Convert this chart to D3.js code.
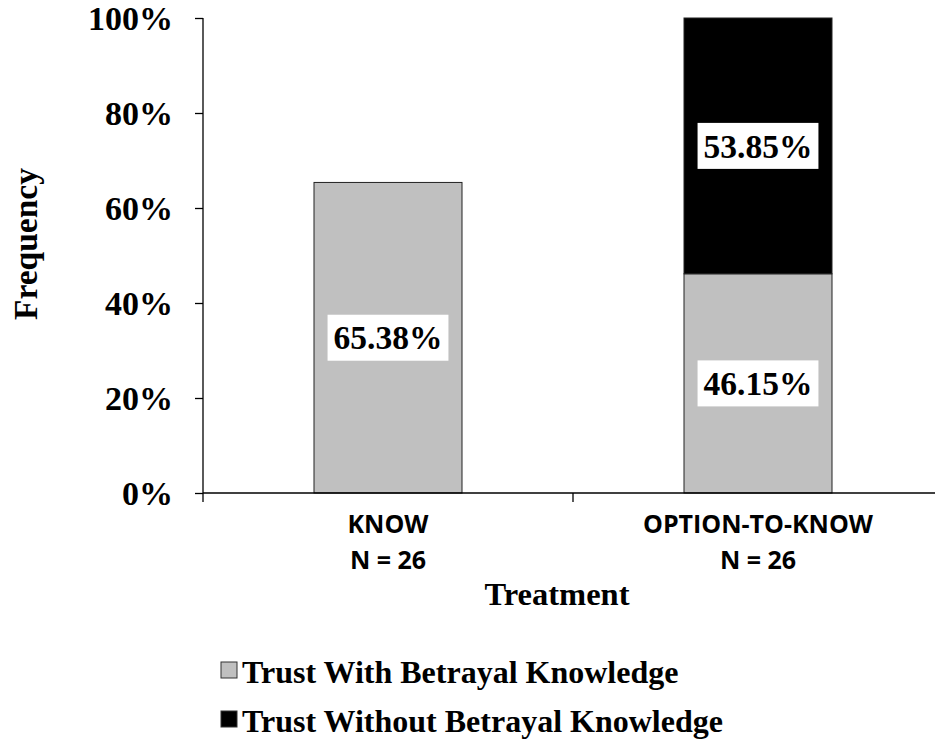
<!DOCTYPE html>
<html>
<head>
<meta charset="utf-8">
<script src="https://cdn.jsdelivr.net/npm/d3@7"></script>
<style>
  html, body { margin: 0; padding: 0; background: #fff; }
  svg { display: block; }
  .serif { font-family: "Liberation Serif", "Times New Roman", serif; font-weight: bold; }
  .sans { font-family: "Open Sans", "Liberation Sans", sans-serif; font-weight: bold; }
</style>
</head>
<body>
<script>
// Treatments and sample sizes
const categories = ["KNOW", "OPTION-TO-KNOW"];
const sampleSizes = [26, 26];
// Share of participants (%) per outcome
const seriesNames = ["Trust With Betrayal Knowledge", "Trust Without Betrayal Knowledge"];
const withKnowledge = [65.38, 46.15];
const withoutKnowledge = [0, 53.85];
const yTicks = [0, 20, 40, 60, 80, 100];

const W = 935, H = 742;
const margin = { left: 203, top: 18, bottom: 249 };
const plotBottom = H - margin.bottom;

const svg = d3.select("body").append("svg").attr("width", W).attr("height", H);

const x = d3.scaleBand().domain(categories).range([203, 943]).paddingInner(0).paddingOuter(0);
const y = d3.scaleLinear().domain([0, 100]).range([plotBottom, margin.top]);
const color = d3.scaleOrdinal().domain(seriesNames).range(["#c0c0c0", "#000000"]);

const rows = categories.map((c, i) => ({
  cat: c,
  [seriesNames[0]]: withKnowledge[i],
  [seriesNames[1]]: withoutKnowledge[i]
}));
const stacked = d3.stack().keys(seriesNames)(rows);

const barW = x.bandwidth() * 0.4;
const barX = c => x(c) + (x.bandwidth() - barW) / 2;

// Stacked bars
const layers = svg.append("g").selectAll("g").data(stacked).join("g")
  .attr("fill", d => color(d.key));
layers.selectAll("rect").data(d => d.filter(s => s[1] - s[0] > 0)).join("rect")
  .attr("x", d => barX(d.data.cat))
  .attr("y", d => y(d[1]))
  .attr("width", barW)
  .attr("height", d => y(d[0]) - y(d[1]))
  .attr("stroke", "#222")
  .attr("stroke-width", 1);

// Y axis
const yAxis = svg.append("g").attr("transform", `translate(${margin.left},0)`)
  .call(d3.axisLeft(y).tickValues(yTicks).tickFormat(d => d + "%").tickSize(8).tickPadding(22));
yAxis.select(".domain").attr("stroke", "#000").attr("stroke-width", 1.3).attr("d", `M-0,${y(100)}V${y(0)}`);
yAxis.selectAll(".tick line").attr("stroke", "#000").attr("stroke-width", 1.3);
yAxis.selectAll(".tick text")
  .attr("class", "serif").attr("font-size", 34).attr("fill", "#000").attr("dy", "0.35em");

// X axis line with ticks at category boundaries
const xg = svg.append("g");
xg.append("line")
  .attr("x1", x.range()[0]).attr("x2", x.range()[1])
  .attr("y1", plotBottom).attr("y2", plotBottom)
  .attr("stroke", "#000").attr("stroke-width", 1.5);
const bounds = categories.map(c => x(c)).concat([x.range()[1]]);
xg.selectAll("line.tk").data(bounds).join("line").attr("class", "tk")
  .attr("x1", d => d).attr("x2", d => d)
  .attr("y1", plotBottom).attr("y2", plotBottom + 9)
  .attr("stroke", "#000").attr("stroke-width", 1.3);

// Category labels
const catG = xg.selectAll("g.cat").data(categories).join("g").attr("class", "cat")
  .attr("transform", c => `translate(${x(c) + x.bandwidth() / 2},0)`);
catG.append("text").attr("class", "sans").attr("font-size", 25).attr("text-anchor", "middle")
  .attr("y", 533).text(c => c);
catG.append("text").attr("class", "sans").attr("font-size", 25).attr("text-anchor", "middle")
  .attr("y", 569).text((c, i) => "N = " + sampleSizes[i]);

// Value labels on white boxes
const labels = [];
stacked.forEach(layer => layer.forEach(s => {
  const v = s[1] - s[0];
  if (v > 0) labels.push({ cat: s.data.cat, v, mid: (s[0] + s[1]) / 2 });
}));
const lg = svg.append("g").selectAll("g").data(labels).join("g")
  .attr("transform", d => `translate(${barX(d.cat) + barW / 2},${y(d.mid)})`);
lg.append("text").attr("class", "serif").attr("font-size", 33.5).attr("text-anchor", "middle")
  .attr("dy", "0.35em").text(d => d.v.toFixed(2) + "%");
lg.each(function () {
  const g = d3.select(this);
  const bb = g.select("text").node().getBBox();
  g.insert("rect", "text")
    .attr("x", bb.x - 6).attr("width", bb.width + 12)
    .attr("y", -23).attr("height", 46)
    .attr("fill", "#fff");
});

// Axis titles
svg.append("text").attr("class", "serif").attr("font-size", 33.5).attr("text-anchor", "middle")
  .attr("transform", "translate(37,244) rotate(-90)").text("Frequency");
svg.append("text").attr("class", "serif").attr("font-size", 32.5).attr("text-anchor", "middle")
  .attr("x", 557).attr("y", 605).text("Treatment");

// Legend
const leg = svg.append("g").selectAll("g").data(seriesNames).join("g")
  .attr("transform", (d, i) => `translate(221,${662 + i * 49})`);
leg.append("rect").attr("width", 16).attr("height", 16)
  .attr("fill", d => color(d)).attr("stroke", "#333").attr("stroke-width", 1);
leg.append("text").attr("class", "serif").attr("font-size", 32)
  .attr("x", 21).attr("y", 21).text(d => d);
</script>
</body>
</html>
